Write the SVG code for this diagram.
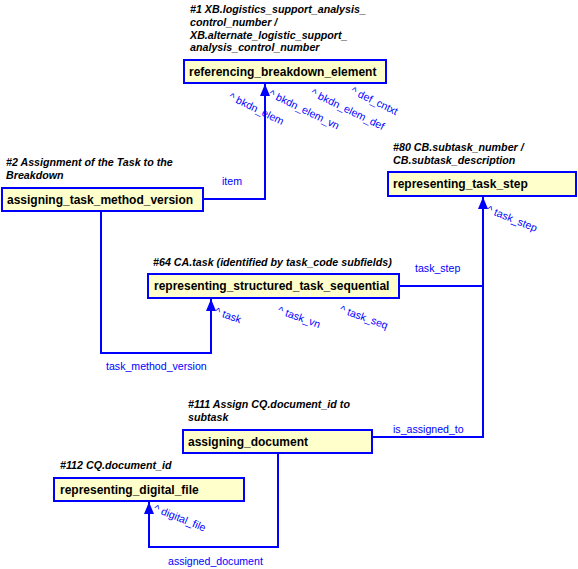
<svg xmlns="http://www.w3.org/2000/svg" width="578" height="569" viewBox="0 0 578 569">
<defs>
<style>
.box{fill:#ffffcc;stroke:#0000ff;stroke-width:2}
.nm{font-family:"Liberation Sans",Arial,sans-serif;font-size:12px;font-weight:bold;fill:#000}
.ti{font-family:"Liberation Sans",Arial,sans-serif;font-size:10.7px;font-weight:bold;font-style:italic;fill:#000}
.lb{font-family:"Liberation Sans",Arial,sans-serif;font-size:10.6px;fill:#0000ff}
.ln{fill:none;stroke:#0000ff;stroke-width:2}
</style>
</defs>
<rect width="578" height="569" fill="#fff"/>
<g id="connectors">
<path class="ln" d="M203,199 H265 V84"/>
<path class="ln" d="M101,211 V353 H211 V299"/>
<path class="ln" d="M399,286 H483 V197"/>
<path class="ln" d="M372,437 H483 V286"/>
<path class="ln" d="M278,453 V547 H149 V502"/>
<path d="M260,96 L265,84 L270,96 Z" fill="#0000ff"/>
<path d="M206,311 L211,299 L216,311 Z" fill="#0000ff"/>
<path d="M478,209 L483,197 L488,209 Z" fill="#0000ff"/>
<path d="M144,514 L149,502 L154,514 Z" fill="#0000ff"/>
<text class="lb" x="222" y="185">item</text>
<text class="lb" x="106" y="370">task_method_version</text>
<text class="lb" x="415" y="272">task_step</text>
<text class="lb" x="393" y="433">is_assigned_to</text>
<text class="lb" x="168" y="565">assigned_document</text>
<text class="lb" transform="translate(228,99) rotate(26)">^ bkdn_elem</text>
<text class="lb" transform="translate(268,96) rotate(26)">^ bkdn_elem_vn</text>
<text class="lb" transform="translate(310,95) rotate(26)">^ bkdn_elem_def</text>
<text class="lb" transform="translate(350,93) rotate(26)">^ def_cntxt</text>
<text class="lb" transform="translate(214,314) rotate(20)">^ task</text>
<text class="lb" transform="translate(277,313) rotate(20)">^ task_vn</text>
<text class="lb" transform="translate(339,312) rotate(20)">^ task_seq</text>
<text class="lb" transform="translate(486,212) rotate(22)">^ task_step</text>
<text class="lb" transform="translate(153,511) rotate(22)">^ digital_file</text>
</g>
<g id="n1">
<text class="ti" x="190" y="13">#1 XB.logistics_support_analysis_</text>
<text class="ti" x="190" y="26">control_number /</text>
<text class="ti" x="190" y="39">XB.alternate_logistic_support_</text>
<text class="ti" x="190" y="51">analysis_control_number</text>
<rect class="box" x="184" y="60" width="202" height="23"/>
<text class="nm" x="189" y="76">referencing_breakdown_element</text>
</g>
<g id="n2">
<text class="ti" x="6" y="166">#2 Assignment of the Task to the</text>
<text class="ti" x="6" y="179">Breakdown</text>
<rect class="box" x="2" y="188" width="201" height="23"/>
<text class="nm" x="7" y="204">assigning_task_method_version</text>
</g>
<g id="n64">
<text class="ti" x="153" y="266">#64 CA.task (identified by task_code subfields)</text>
<rect class="box" x="148" y="274" width="251" height="24"/>
<text class="nm" x="154" y="290">representing_structured_task_sequential</text>
</g>
<g id="n80">
<text class="ti" x="393" y="151">#80 CB.subtask_number /</text>
<text class="ti" x="393" y="164">CB.subtask_description</text>
<rect class="box" x="388" y="172" width="188" height="24"/>
<text class="nm" x="393" y="188">representing_task_step</text>
</g>
<g id="n111">
<text class="ti" x="188" y="408">#111 Assign CQ.document_id to</text>
<text class="ti" x="188" y="421">subtask</text>
<rect class="box" x="183" y="430" width="189" height="23"/>
<text class="nm" x="188" y="446">assigning_document</text>
</g>
<g id="n112">
<text class="ti" x="60" y="469">#112 CQ.document_id</text>
<rect class="box" x="54" y="478" width="190" height="23"/>
<text class="nm" x="60" y="494">representing_digital_file</text>
</g>
</svg>
